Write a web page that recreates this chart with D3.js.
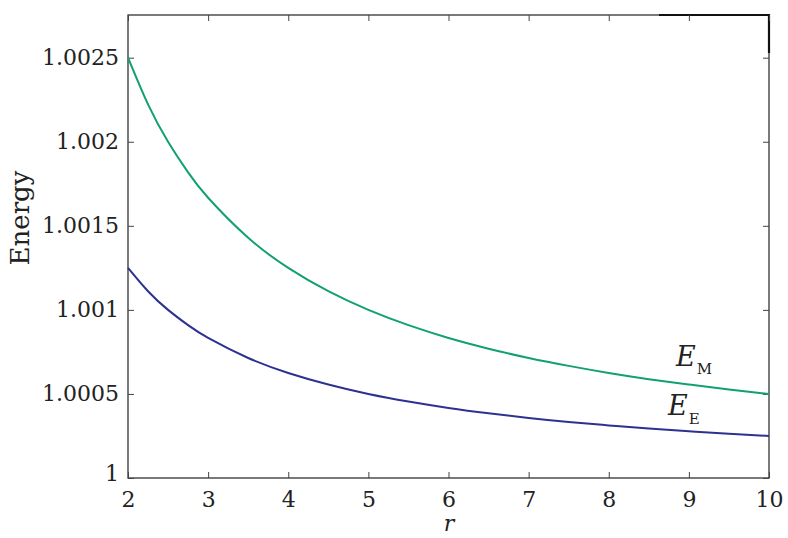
<!DOCTYPE html>
<html>
<head>
<meta charset="utf-8">
<script src="https://cdn.jsdelivr.net/npm/d3@7"></script>
<style>
  body { margin: 0; background: #fff; }
  svg text { font-family: "DejaVu Serif", serif; fill: #222; }
</style>
</head>
<body>
<div id="chart"></div>
<script>
var rValues = [2, 2.25, 2.5, 2.75, 3, 3.5, 4, 4.5, 5, 5.5, 6, 6.5, 7, 7.5, 8, 8.5, 9, 9.5, 10];
var energyM = [1.0025, 1.002222, 1.0020, 1.001818, 1.001667, 1.001429, 1.00125, 1.001111, 1.001,
               1.000909, 1.000833, 1.000769, 1.000714, 1.000667, 1.000625, 1.000588, 1.000556,
               1.000526, 1.0005];
var energyE = [1.00125, 1.001111, 1.001, 1.000909, 1.000833, 1.000714, 1.000625, 1.000556, 1.0005,
               1.000455, 1.000417, 1.000385, 1.000357, 1.000333, 1.000313, 1.000294, 1.000278,
               1.000263, 1.00025];
var xTicks = [2, 3, 4, 5, 6, 7, 8, 9, 10];
var yTicks = [1, 1.0005, 1.001, 1.0015, 1.002, 1.0025];
var yTickLabels = ["1", "1.0005", "1.001", "1.0015", "1.002", "1.0025"];

var margin = {top: 15, right: 19, bottom: 60, left: 128},
    width = 788 - margin.left - margin.right,
    height = 538 - margin.top - margin.bottom;

var svg = d3.select("#chart").append("svg")
    .attr("width", 788)
    .attr("height", 538);

var g = svg.append("g")
    .attr("transform", "translate(" + margin.left + "," + margin.top + ")");

var x = d3.scaleLinear().domain([2, 10]).range([0, width]);
var y = d3.scaleLinear().domain([1, 1.002754]).range([height, 0]);

// frame
g.append("rect")
    .attr("width", width)
    .attr("height", height)
    .attr("fill", "none")
    .attr("stroke", "#333")
    .attr("stroke-width", 1.3);

// the darker corner bit on top right
g.append("path")
    .attr("d", "M" + (width - 110) + ",0H" + width + "V38")
    .attr("fill", "none")
    .attr("stroke", "#111")
    .attr("stroke-width", 2.2);

// bottom axis + mirrored top ticks
var xAxis = g.append("g")
    .attr("transform", "translate(0," + height + ")")
    .call(d3.axisBottom(x).tickValues(xTicks).tickSize(-6).tickPadding(14).tickFormat(d3.format("d")));
g.append("g")
    .call(d3.axisTop(x).tickValues(xTicks).tickSize(-6).tickFormat(""));

var yAxis = g.append("g")
    .call(d3.axisLeft(y).tickValues(yTicks).tickSize(-6).tickPadding(9)
      .tickFormat(function (d, i) { return yTickLabels[i]; }));
g.append("g")
    .attr("transform", "translate(" + width + ",0)")
    .call(d3.axisRight(y).tickValues(yTicks).tickSize(-6).tickFormat(""));

g.selectAll(".domain").remove();
g.selectAll(".tick line").attr("stroke", "#444").attr("stroke-width", 1);
g.selectAll(".tick text")
    .style("font-family", "'DejaVu Serif', serif")
    .style("font-size", "22px")
    .attr("fill", "#222");

// a couple of labels sit a bit off like in the original
xAxis.selectAll(".tick text").attr("dy", "0.66em");
yAxis.selectAll(".tick").filter(function (d) { return d === 1; })
    .select("text").attr("dy", "0.1em");

var line = d3.line()
    .x(function (d, i) { return x(rValues[i]); })
    .y(function (d) { return y(d); })
    .curve(d3.curveNatural);

g.append("path")
    .datum(energyM)
    .attr("d", line)
    .attr("fill", "none")
    .attr("stroke", "#11a072")
    .attr("stroke-width", 2);

g.append("path")
    .datum(energyE)
    .attr("d", line)
    .attr("fill", "none")
    .attr("stroke", "#2d3191")
    .attr("stroke-width", 2);

// series labels
var lm = svg.append("text").attr("x", 676).attr("y", 366);
lm.append("tspan").text("E").style("font-style", "italic").style("font-size", "27px");
lm.append("tspan").text("M").attr("dy", 8).attr("dx", 1).style("font-size", "15px");

var le = svg.append("text").attr("x", 668).attr("y", 415);
le.append("tspan").text("E").style("font-style", "italic").style("font-size", "27px");
le.append("tspan").text("E").attr("dy", 9).attr("dx", 1).style("font-size", "15px");

// axis titles
svg.append("text")
    .attr("transform", "translate(29,218) rotate(-90)")
    .attr("text-anchor", "middle")
    .style("font-size", "26px")
    .text("Energy");

svg.append("text")
    .attr("x", 449)
    .attr("y", 531)
    .attr("text-anchor", "middle")
    .style("font-style", "italic")
    .style("font-size", "22px")
    .text("r");
</script>
</body>
</html>
